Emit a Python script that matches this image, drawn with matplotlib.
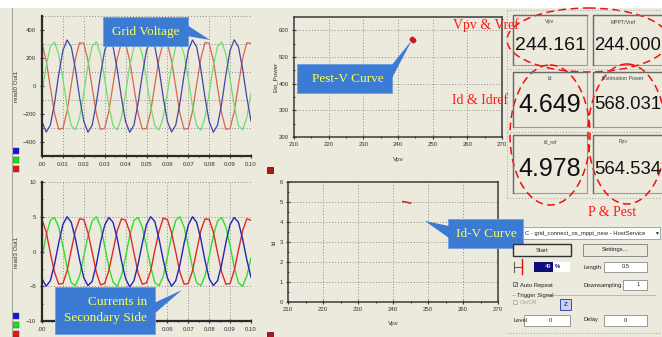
import numpy as np
import matplotlib
matplotlib.use("Agg")
import matplotlib.pyplot as plt
from matplotlib import font_manager
from matplotlib.patches import Rectangle, Ellipse, Polygon

# --- datos ---
t = np.linspace(0.0, 0.10, 51)          # muestreo cada 2 ms

v_blue = [-254, -329, -279, -121, 82, 254, 329, 279, 121, -82,
          -252, -330, -280, -122, 80, 255, 331, 281, 120, -83,
          -255, -331, -279, -120, 83, 254, 330, 280, 122, -81,
          -253, -329, -278, -121, 81, 253, 329, 279, 121, -82,
          -254, -330, -279, -122, 82, 255, 330, 279, 120, -82,
          -250]
v_green = [-50, 144, 283, 314, 225, 50, -144, -283, -314, -225,
           -49, 145, 284, 316, 226, 51, -143, -282, -315, -226,
           -50, 144, 283, 315, 224, 49, -145, -284, -314, -225,
           -51, 143, 282, 314, 225, 50, -144, -283, -316, -224,
           -50, 145, 284, 315, 225, 50, -144, -283, -314, -225,
           -52]
v_red = [303, 181, -10, -197, -309, -303, -181, 10, 197, 309,
         304, 182, -11, -198, -310, -302, -180, 11, 198, 310,
         302, 180, -10, -196, -308, -304, -182, 9, 196, 308,
         303, 181, -9, -197, -309, -303, -181, 10, 197, 311,
         304, 182, -10, -198, -310, -302, -181, 10, 196, 309,
         305]

i_blue = [-3.9, -5.0, -4.2, -1.8, 1.2, 3.9, 5.0, 4.2, 1.8, -1.2,
          -3.8, -4.9, -4.3, -1.9, 1.3, 3.8, 4.9, 4.2, 1.9, -1.3,
          -3.9, -5.1, -4.2, -1.8, 1.2, 3.9, 5.0, 4.3, 1.8, -1.2,
          -3.8, -5.0, -4.2, -1.9, 1.2, 3.8, 5.0, 4.2, 1.8, -1.3,
          -3.9, -4.9, -4.2, -1.8, 1.3, 3.9, 4.9, 4.2, 1.8, -1.2,
          -3.7]
i_green = [-0.8, 2.3, 4.5, 4.9, 3.5, 0.8, -2.3, -4.5, -4.9, -3.5,
           -0.7, 2.2, 4.4, 5.0, 3.6, 0.8, -2.3, -4.4, -5.0, -3.5,
           -0.8, 2.3, 4.5, 4.9, 3.5, 0.7, -2.2, -4.5, -4.9, -3.6,
           -0.8, 2.3, 4.5, 5.0, 3.5, 0.8, -2.3, -4.5, -4.9, -3.5,
           -0.7, 2.3, 4.4, 4.9, 3.5, 0.8, -2.3, -4.5, -5.0, -3.5,
           -0.9]
i_red = [4.6, 2.8, -0.2, -3.0, -4.7, -4.6, -2.8, 0.2, 3.0, 4.7,
         4.6, 2.7, -0.1, -3.0, -4.8, -4.6, -2.7, 0.1, 3.0, 4.7,
         4.5, 2.8, -0.2, -3.1, -4.7, -4.5, -2.8, 0.2, 2.9, 4.8,
         4.6, 2.7, -0.1, -3.0, -4.7, -4.6, -2.8, 0.1, 3.0, 4.7,
         4.6, 2.8, -0.2, -3.0, -4.7, -4.6, -2.7, 0.2, 3.0, 4.7,
         4.5]

pest_v = [243.8, 244.0, 244.3, 244.5, 244.2, 243.9, 244.4]
pest_p = [566, 571, 568, 562, 559, 562, 565]
id_v = [242.8, 243.6, 244.4, 245.0]
id_i = [5.02, 5.00, 4.97, 4.94]

time_ticks = [0.0, 0.01, 0.02, 0.03, 0.04, 0.05, 0.06, 0.07, 0.08, 0.09, 0.10]
time_labels = ['.00', '0.01', '0.02', '0.03', '0.04', '0.05', '0.06', '0.07', '0.08', '0.09', '0.10']
v_ticks = [-400, -200, 0, 200, 400]
v_grid = [-300, -100, 100, 300, 500]
i_ticks = [-10, -5, 0, 5, 10]
i_grid = [-5, 5, 10]
vpv_ticks = [210, 220, 230, 240, 250, 260, 270]
pow_ticks = [200, 300, 400, 500, 600]
id_ticks = [0, 1, 2, 3, 4, 5, 6]

indicators = [
    ('Vpv', '244.161'), ('MPPT/Vref', '244.000'),
    ('Id', '4.649'), ('Estimation Power', '568.031'),
    ('Id_ref', '4.978'), ('Ppv', '564.534'),
]

# --- estilo ---
BG = '#ECE9DD'
W, H = 662, 337
names = {f.name for f in font_manager.fontManager.ttflist}
NUM_FONT = 'Liberation Sans Narrow' if 'Liberation Sans Narrow' in names else 'Liberation Sans'
SERIF = 'Liberation Serif'
plt.rcParams['font.family'] = ['Liberation Sans', 'DejaVu Sans']

fig = plt.figure(figsize=(W / 100, H / 100), dpi=100, facecolor=BG)


def px_axes(x0, y0, x1, y1, **kw):
    return fig.add_axes([x0 / W, 1 - y1 / H, (x1 - x0) / W, (y1 - y0) / H], **kw)


def grid_dots(ax, xs=(), ys=()):
    for gx in xs:
        ax.axvline(gx, color='#8C8C8C', ls=(0, (1, 2)), lw=0.7, zorder=0)
    for gy in ys:
        ax.axhline(gy, color='#8C8C8C', ls=(0, (1, 2)), lw=0.7, zorder=0)


def style_time_axes(ax):
    ax.set_facecolor(BG)
    ax.spines['top'].set_visible(False)
    ax.spines['right'].set_visible(False)
    for s in ('left', 'bottom'):
        ax.spines[s].set_color('#2A2A2A')
        ax.spines[s].set_linewidth(1.6)
    ax.set_xlim(0, 0.10)
    ax.set_xticks(time_ticks)
    ax.set_xticklabels(time_labels)
    ax.set_xticks(np.arange(0.005, 0.1, 0.01), minor=True)
    ax.tick_params(labelsize=4.3, colors='#333333', length=2.5, width=0.8,
                   direction='inout', pad=3)
    ax.tick_params(which='minor', length=1.5, direction='inout')


def style_xy_axes(ax):
    ax.set_facecolor(BG)
    for s in ax.spines.values():
        s.set_color('#3A3A3A')
        s.set_linewidth(1.1)
    ax.set_xlim(210, 270)
    ax.set_xticks(vpv_ticks)
    ax.set_xticks(np.arange(215, 270, 10), minor=True)
    ax.tick_params(labelsize=4.3, colors='#333333', length=2.5, width=0.8,
                   direction='inout', pad=2.5)
    ax.tick_params(which='minor', length=1.5, direction='inout')
    grid_dots(ax, xs=vpv_ticks[1:-1])


# --- grafica 1: tension de red ---
ax1 = px_axes(42, 16, 251, 156)
style_time_axes(ax1)
ax1.set_ylim(-500, 500)
ax1.set_yticks(v_ticks)
ax1.set_yticks(np.arange(-500, 501, 100), minor=True)
grid_dots(ax1, xs=time_ticks[1:], ys=v_grid)
ax1.plot(t, v_red, color='#D8674F', lw=0.9)
ax1.plot(t, v_green, color='#6EDF6E', lw=0.9)
ax1.plot(t, v_blue, color='#4545A8', lw=0.9)

# --- grafica 2: corrientes ---
ax2 = px_axes(42, 182, 251, 321)
style_time_axes(ax2)
ax2.set_ylim(-10, 10)
ax2.set_yticks(i_ticks)
ax2.set_yticks(np.arange(-7.5, 10, 5), minor=True)
grid_dots(ax2, xs=time_ticks[1:], ys=i_grid)
ax2.plot(t, i_green, color='#2EE02E', lw=1.0)
ax2.plot(t, i_red, color='#E02828', lw=1.0)
ax2.plot(t, i_blue, color='#2424B8', lw=1.0)

# --- grafica 3: Pest-V ---
ax3 = px_axes(294, 17, 502, 137)
style_xy_axes(ax3)
ax3.set_ylim(200, 650)
ax3.set_yticks(pow_ticks)
ax3.set_yticks(np.arange(250, 650, 100), minor=True)
grid_dots(ax3, ys=pow_ticks[1:])
ax3.plot(pest_v, pest_p, color='#C42020', lw=0.8, marker='o', ms=1.8)

# --- grafica 4: Id-V ---
ax4 = px_axes(288, 182, 498, 302)
style_xy_axes(ax4)
ax4.set_ylim(0, 6)
ax4.set_yticks(id_ticks)
ax4.set_yticks(np.arange(0.5, 6, 1), minor=True)
grid_dots(ax4, ys=id_ticks[1:-1])
ax4.plot(id_v, id_i, color='#C42020', lw=1.1)

# --- capa superior en pixeles ---
ov = fig.add_axes([0, 0, 1, 1], zorder=10)
ov.set_xlim(0, W)
ov.set_ylim(H, 0)
ov.axis('off')
ov.patch.set_alpha(0)

ov.add_patch(Rectangle((0, 0), W, 8, fc='white', ec='none'))
ov.plot([12, 12], [8, H], color='#A8A8A0', lw=0.8)

# etiquetas de ejes
small = dict(fontsize=4.5, color='#333333')
ov.text(16, 86, 'read0 Out1', rotation=90, ha='center', va='center', **small)
ov.text(16, 252, 'read3 Out1', rotation=90, ha='center', va='center', **small)
ov.text(275, 77, 'Est_Power', rotation=90, ha='center', va='center', **small)
ov.text(274, 242, 'Id', rotation=90, ha='center', va='center', **small)
ov.text(398, 159, 'Vpv', ha='center', va='center', **small)
ov.text(393, 324, 'Vpv', ha='center', va='center', **small)

# muestras de color de las leyendas
for (y0, c) in [(148, '#1414E6'), (157, '#14E614'), (166, '#E61414'),
                (313, '#1414E6'), (322, '#14E614'), (331, '#E61414')]:
    ov.add_patch(Rectangle((13, y0), 6, 6, fc=c, ec='#404040', lw=0.3))
for y0 in (167, 332):
    ov.add_patch(Rectangle((267, y0), 6, 6, fc='#B01818', ec='#500000', lw=0.5))

# rejilla punteada del panel derecho
dot = dict(color='#A0A0A0', ls=(0, (1, 2)), lw=0.7)
ov.plot([507, 507], [10, 200], **dot)
for gy in (10, 69, 132, 198, 333):
    ov.plot([507, 662], [gy, gy], **dot)

# indicadores numericos
cells = [(513, 15, 587, 65), (593, 15, 675, 65),
         (513, 72, 587, 127), (593, 72, 675, 127),
         (513, 135, 587, 193), (593, 135, 675, 193)]
num_sizes = [14, 13.3, 18, 13.3, 18, 13.3]
for (x0, y0, x1, y1), (lab, val), fs in zip(cells, indicators, num_sizes):
    ov.add_patch(Rectangle((x0, y0), x1 - x0, y1 - y0, fc=BG, ec='#9A9A9A', lw=0.8))
    ov.plot([x0, x0, x1], [y1, y0, y0], color='#6A6A6A', lw=1.0)
    ov.text((x0 + x1) / 2 if x1 < 662 else x0 + 30, y0 + 7, lab,
            ha='center', va='center', fontsize=3.8, color='#444444')
    yc = (y0 + y1) / 2 + 5
    if x0 < 550:
        ov.text((x0 + x1) / 2, yc, val, ha='center', va='center', fontsize=fs,
                family=NUM_FONT, color='#111111')
    else:
        ov.text(x0 + 1, yc, val, ha='left', va='center', fontsize=fs,
                family=NUM_FONT, color='#111111')

# elipses rojas discontinuas
for (cx, cy, w, h) in [(588, 40, 162, 64), (550, 135, 80, 140), (627, 134, 78, 140)]:
    ov.add_patch(Ellipse((cx, cy), w, h, fill=False, ec='#F01010', lw=1.1,
                         ls=(0, (5, 3))))

red_txt = dict(family=SERIF, fontsize=10, color='#FF1A1A', ha='center', va='center')
ov.text(486, 25, 'Vpv & Vref', **red_txt)
ov.text(480, 101, 'Id & Idref', **red_txt)
ov.text(612, 213, 'P & Pest', **red_txt)

# llamadas azules
CALL = '#3B7BD4'
ytxt = dict(family=SERIF, fontsize=9.5, color='#FFFF4D', va='center')
callouts = [
    ((103, 17, 188, 46), [(187, 25), (187, 36), (210, 40)]),
    ((55, 287, 155, 334), [(154, 303), (154, 314), (182, 290)]),
    ((297, 64, 392, 93), [(391, 66), (391, 80), (412, 40)]),
    ((448, 219, 523, 248), [(449, 226), (449, 238), (425, 221)]),
]
for (x0, y0, x1, y1), tri in callouts:
    ov.add_patch(Rectangle((x0, y0), x1 - x0, y1 - y0, fc=CALL, ec='#6F9FE0', lw=0.6))
    ov.add_patch(Polygon(tri, closed=True, fc=CALL, ec='none'))
ov.text(146, 32, 'Grid Voltage', ha='center', **ytxt)
ov.text(147, 302, 'Currents in', ha='right', **ytxt)
ov.text(147, 318, 'Secondary Side', ha='right', **ytxt)
ov.text(348, 79, 'Pest-V Curve', ha='center', **ytxt)
ov.text(486, 234, 'Id-V Curve', ha='center', **ytxt)

# panel de control
gui = dict(fontsize=4.2, color='#222222', va='center')
ov.add_patch(Rectangle((523, 227), 137, 12, fc='white', ec='#7F9DB9', lw=0.6))
ov.text(525, 233, 'C - grid_connect_os_mppt_new - HostService', ha='left', **gui)
ov.text(656, 233, '\u25bc', ha='center', fontsize=3.5, color='#222222', va='center')
ov.add_patch(Rectangle((513, 244), 58, 12, fc=BG, ec='#303030', lw=1.0))
ov.text(542, 250, 'Start', ha='center', **gui)
ov.add_patch(Rectangle((583, 244), 64, 12, fc=BG, ec='#8A8A8A', lw=0.7))
ov.text(615, 250, 'Settings...', ha='center', **gui)
ov.plot([522, 522], [259, 274], color='#E01010', lw=1.0)
ov.plot([514, 514], [262, 272], color='#606060', lw=0.8)
ov.plot([514, 521], [267, 267], color='#606060', lw=0.8)
ov.add_patch(Rectangle((534, 262), 19, 10, fc='#0A0A7A', ec='none'))
ov.add_patch(Rectangle((553, 262), 17, 10, fc='white', ec='none'))
ov.text(551, 267, '49', ha='right', fontsize=4.2, color='white', va='center')
ov.text(555, 267, '%', ha='left', fontsize=4.2, color='#0A0A7A', va='center', weight='bold')
ov.text(583, 267, 'Length', ha='left', **gui)
ov.add_patch(Rectangle((604, 262), 43, 10, fc='white', ec='#8A8A8A', lw=0.6))
ov.text(626, 267, '0.5', ha='center', **gui)
ov.add_patch(Rectangle((513, 282), 4, 4, fc='white', ec='#404040', lw=0.5))
ov.text(515, 284, '\u2713', ha='center', fontsize=3.5, color='#222222', va='center',
        family='DejaVu Sans')
ov.text(520, 285, 'Auto Repeat', ha='left', **gui)
ov.text(583, 285, 'Downsampling', ha='left', **gui)
ov.add_patch(Rectangle((623, 280), 24, 10, fc='white', ec='#8A8A8A', lw=0.6))
ov.text(640, 285, '1', ha='right', **gui)
ov.text(517, 295, 'Trigger Signal', ha='left', **gui)
ov.plot([512, 515], [295, 295], color='#B0B0B0', lw=0.6)
ov.plot([547, 655], [295, 295], color='#B0B0B0', lw=0.6)
ov.add_patch(Rectangle((513, 300), 4, 4, fc=BG, ec='#A0A0A0', lw=0.5))
ov.text(520, 303, 'On/Off', ha='left', fontsize=4.2, color='#A0A0A0', va='center')
ov.add_patch(Rectangle((560, 299), 11, 11, fc='#C8D4EC', ec='#2030A0', lw=0.6))
ov.text(565.5, 304.5, 'Z', ha='center', va='center', fontsize=4.5, color='#2030A0',
        weight='bold')
ov.text(513, 320, 'Level', ha='left', **gui)
ov.add_patch(Rectangle((524, 315), 46, 11, fc='white', ec='#8A8A8A', lw=0.6))
ov.text(550, 320.5, '0', ha='center', **gui)
ov.text(583, 320, 'Delay', ha='left', **gui)
ov.add_patch(Rectangle((604, 315), 43, 11, fc='white', ec='#8A8A8A', lw=0.6))
ov.text(625, 320.5, '0', ha='center', **gui)

fig.savefig('out.png', dpi=100, facecolor=BG)
